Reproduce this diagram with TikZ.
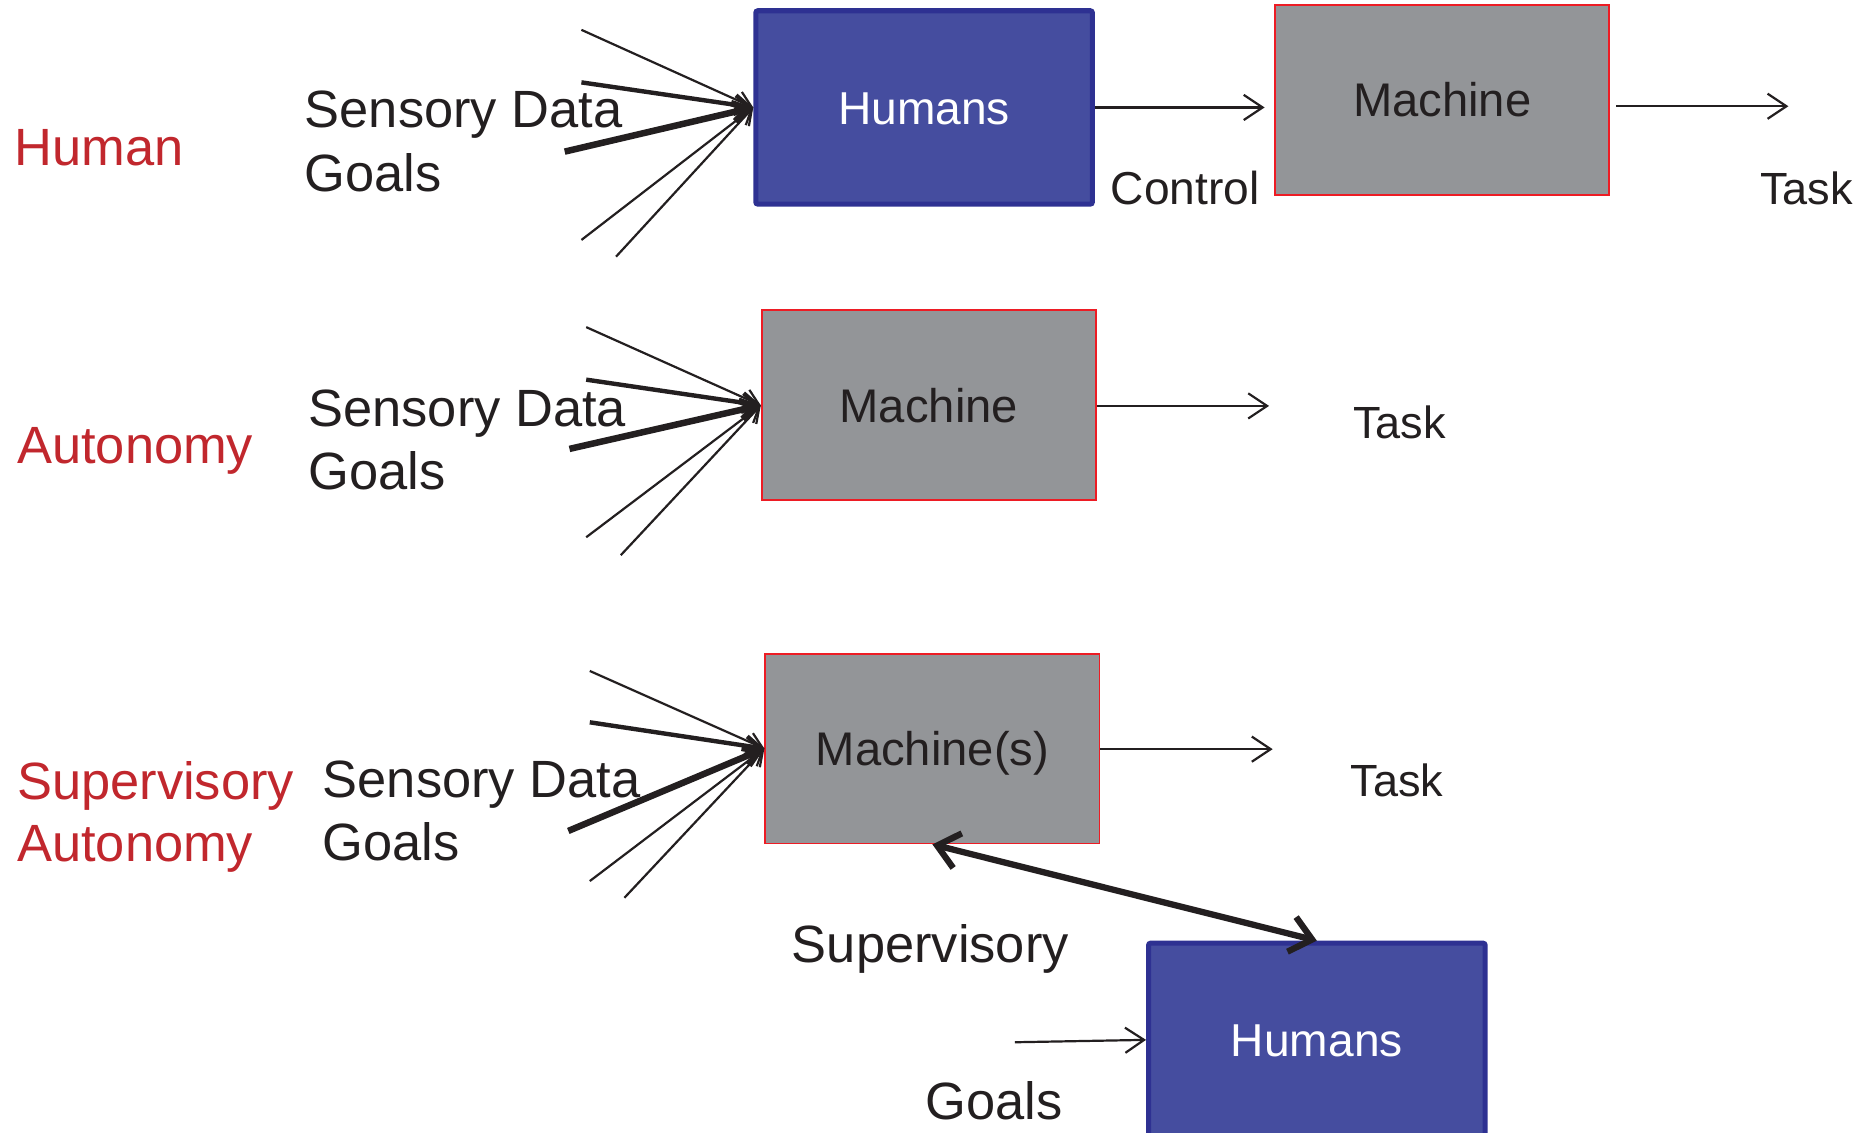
\documentclass[tikz,border=0pt]{standalone}
\usepackage{fontspec}
\setmainfont{Liberation Sans}
\usetikzlibrary{arrows.meta}

\definecolor{ink}{HTML}{231F20}
\definecolor{modered}{HTML}{C1272D}
\definecolor{humanfill}{HTML}{454D9F}
\definecolor{humanline}{HTML}{2E3192}
\definecolor{machfill}{HTML}{939598}
\definecolor{machline}{HTML}{ED1C24}

\tikzset{
  lbl/.style={anchor=base west, inner sep=0pt, text=ink, font=\fontsize{25}{30}\selectfont},
  modelbl/.style={anchor=base west, inner sep=0pt, text=modered, font=\fontsize{25}{30}\selectfont},
  smalllbl/.style={anchor=base west, inner sep=0pt, text=ink, font=\fontsize{21.5}{26}\selectfont},
  humanbox/.style={draw=humanline, line width=2.4pt, fill=humanfill, text=white,
    minimum width=5.64cm, minimum height=3.24cm, inner sep=0pt,
    text height=15.8pt, text depth=0pt,
    rounded corners=1pt, font=\fontsize{22}{26}\selectfont},
  machbox/.style={draw=machline, line width=0.9pt, fill=machfill, text=ink,
    minimum width=5.6cm, minimum height=3.18cm, inner sep=0pt,
    text height=16.1pt, text depth=0pt,
    font=\fontsize{22.5}{27}\selectfont},
  outarrow/.style={draw=ink, line width=1.05pt, -{Straight Barb[length=9pt,width=12pt]}},
  finein/.style={draw=ink, line width=1.05pt, -{Straight Barb[length=7pt,width=9pt]}},
  midin/.style={draw=ink, line width=2.1pt, -{Straight Barb[length=7pt,width=9pt]}},
  heavyin/.style={draw=ink, line width=3.1pt, -{Straight Barb[length=7pt,width=9pt]}},
  superarrow/.style={draw=ink, line width=3pt,
    {Straight Barb[length=10pt,width=17pt]}-{Straight Barb[length=10pt,width=17pt]}},
}

\begin{document}
\begin{tikzpicture}[x=0.02cm, y=-0.02cm]
\useasboundingbox (0,0) rectangle (1568,949);
\clip (0,0) rectangle (1568,949);

% ---------- Human control ----------
\node[modelbl] (modeA) at (12,139) {Human};
\node[lbl] (sdA) at (255,107) {Sensory Data};
\node[lbl] (goA) at (255,160) {Goals};
\node[humanbox] (humA) at (774,90) {Humans};
\node[machbox] (macA) at (1208,83.5) {Machine};
\node[lbl, font=\fontsize{22}{26}\selectfont] (ctlA) at (930,171) {Control};
\node[smalllbl] (taskA) at (1474,171) {Task};
\coordinate (endA) at (1498,89);

\coordinate (a1) at (487,25);
\coordinate (a2) at (487,69);
\coordinate (a3) at (473,127);
\coordinate (a4) at (487,201);
\coordinate (a5) at (516,215);
\draw[finein]  (a1) -- (humA.west);
\draw[midin]   (a2) -- (humA.west);
\draw[heavyin] (a3) -- (humA.west);
\draw[finein]  (a4) -- (humA.west);
\draw[finein]  (a5) -- (humA.west);

\draw[outarrow, shorten >=0.16cm] (humA.east) -- (humA.east -| macA.west);
\draw[outarrow, shorten <=0.1cm] (macA.east |- endA) -- (endA);

% ---------- Autonomy ----------
\node[modelbl] (modeB) at (14,388) {Autonomy};
\node[lbl] (sdB) at (258,357) {Sensory Data};
\node[lbl] (goB) at (258,410) {Goals};
\node[machbox] (macB) at (778,339.5) {Machine};
\node[smalllbl] (taskB) at (1133,367) {Task};
\coordinate (endB) at (1063,340);

\coordinate (b1) at (491,274);
\coordinate (b2) at (491,318);
\coordinate (b3) at (477,376);
\coordinate (b4) at (491,450);
\coordinate (b5) at (520,465);
\draw[finein]  (b1) -- (macB.west);
\draw[midin]   (b2) -- (macB.west);
\draw[heavyin] (b3) -- (macB.west);
\draw[finein]  (b4) -- (macB.west);
\draw[finein]  (b5) -- (macB.west);

\draw[outarrow] (macB.east |- endB) -- (endB);

% ---------- Supervisory autonomy ----------
\node[modelbl] (modeC1) at (14,670) {Supervisory};
\node[modelbl] (modeC2) at (14,722) {Autonomy};
\node[lbl] (sdC) at (270,668) {Sensory Data};
\node[lbl] (goC) at (270,721) {Goals};
\node[machbox] (macC) at (781,627) {Machine(s)};
\node[smalllbl] (taskC) at (1131,667) {Task};
\coordinate (endC) at (1066,627.5);

\coordinate (c1) at (494,562);
\coordinate (c2) at (494,605);
\coordinate (c3) at (476,696);
\coordinate (c4) at (494,738);
\coordinate (c5) at (523,752);
\draw[finein]  (c1) -- (macC.west);
\draw[midin]   (c2) -- (macC.west);
\draw[heavyin] (c3) -- (macC.west);
\draw[finein]  (c4) -- (macC.west);
\draw[finein]  (c5) -- (macC.west);

\draw[outarrow] (macC.east |- endC) -- (endC);

\node[humanbox] (humC) at (1103,871) {Humans};
\node[lbl] (supC) at (663,806) {Supervisory};
\node[lbl] (goD) at (775,938) {Goals};
\coordinate (goalin) at (850,873);

\draw[superarrow] (macC.south) -- (humC.north);
\draw[outarrow] (goalin) -- (humC.west);

\end{tikzpicture}
\end{document}
